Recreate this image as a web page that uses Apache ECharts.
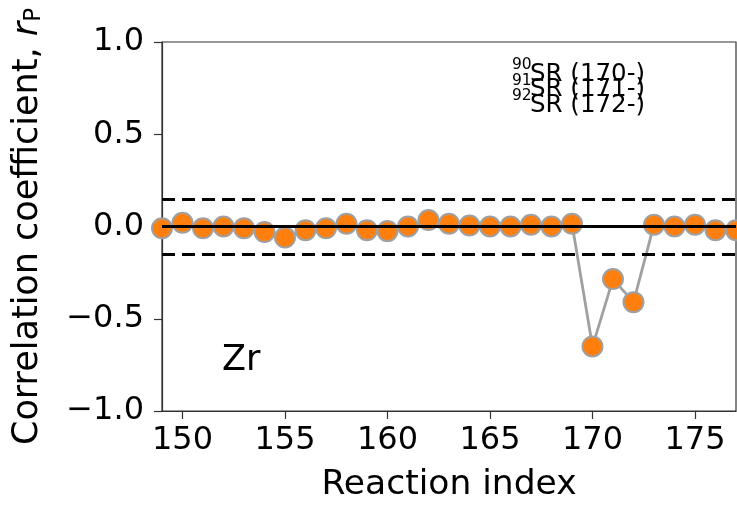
<!DOCTYPE html>
<html><head><meta charset="utf-8">
<script src="https://cdn.jsdelivr.net/npm/echarts@6/dist/echarts.min.js"></script>
<style>html,body{margin:0;padding:0;background:#fff}#c{width:737px;height:508px}</style>
</head><body><div id="c"></div>
<script>
const reactionIndex = [149,150,151,152,153,154,155,156,157,158,159,160,161,162,163,164,165,166,167,168,169,170,171,172,173,174,175,176,177];
const rValues = [-0.01,0.02,-0.01,0.0,-0.01,-0.03,-0.06,-0.02,-0.01,0.015,-0.02,-0.025,0.0,0.035,0.015,0.005,0.0,0.0,0.01,0.0,0.015,-0.65,-0.285,-0.41,0.01,0.0,0.01,-0.02,-0.02];
const xTicks = [150,155,160,165,170,175];
const thresholds = [0.15,-0.15];
const annotationLines = [["90","SR (170-)"],["91","SR (171-)"],["92","SR (172-)"]];
const elementLabel = "Zr";

const FONT = "DejaVu Sans";
const chart = echarts.init(document.getElementById('c'), null, {renderer:'canvas'});
const data = reactionIndex.map((x,i)=>[x,rValues[i]]);
const fmtY = v => (v<0?'\u2212':'') + Math.abs(v).toFixed(1);

const graphics = [];
annotationLines.forEach((l,i)=>{
  graphics.push({type:'text', x:512, y:57+i*15.5, z:10,
    style:{text:l[0], fontSize:15.5, fontFamily:FONT, fill:'#000', align:'left', verticalAlign:'top'}});
  graphics.push({type:'text', x:530, y:62+i*15.5, z:10,
    style:{text:l[1], fontSize:24.5, fontFamily:FONT, fill:'#000', align:'left', verticalAlign:'top'}});
});
graphics.push({type:'text', x:222, y:343, z:10, style:{text:elementLabel, fontSize:35, fontFamily:FONT, fill:'#000', align:'left', verticalAlign:'top'}});

chart.setOption({
  animation:false,
  backgroundColor:'#fff',
  grid:{left:162,right:1,top:42,bottom:93,show:true,borderColor:'#333',borderWidth:1.2,backgroundColor:'transparent'},
  xAxis:{
    type:'value', min:149, max:177,
    axisLine:{show:true,onZero:false,lineStyle:{color:'#333',width:1.2}},
    axisTick:{show:true,customValues:xTicks,length:8,lineStyle:{color:'#333',width:1.2}},
    axisLabel:{customValues:xTicks,fontSize:32,fontFamily:FONT,color:'#000',margin:14},
    splitLine:{show:false},
    name:'Reaction index', nameLocation:'middle', nameGap:57,
    nameTextStyle:{fontSize:34.5,fontFamily:FONT,color:'#000'}
  },
  yAxis:{
    type:'value', min:-1, max:1, interval:0.5,
    axisLine:{show:true,lineStyle:{color:'#333',width:1.2}},
    axisTick:{show:true,length:8,lineStyle:{color:'#333',width:1.2}},
    axisLabel:{formatter:fmtY,fontSize:32,fontFamily:FONT,color:'#000',margin:18},
    splitLine:{show:false},
    name:'Correlation coefficient, {i|r}{s|P}', nameLocation:'middle', nameGap:116,
    nameTextStyle:{fontSize:35,fontFamily:FONT,color:'#000',
      rich:{i:{fontSize:35,fontFamily:FONT,fontStyle:'italic',color:'#000'},
            s:{fontSize:23,fontFamily:FONT,color:'#000',verticalAlign:'bottom',padding:[14,0,0,0]}}}
  },
  graphic:graphics,
  series:[{
    type:'line', data:data, clip:true,
    symbol:'circle', symbolSize:20,
    lineStyle:{color:'#a0a0a0',width:2.8},
    itemStyle:{color:'#ff7f0e',borderColor:'#a0a0a0',borderWidth:2},
    z:2
  },{
    type:'line', data:[], z:20, silent:true,
    markLine:{
      silent:true, symbol:'none', label:{show:false}, animation:false, z:20,
      data:[
        {yAxis:0, lineStyle:{color:'#000',width:3,type:'solid'}},
        {yAxis:thresholds[0], lineStyle:{color:'#000',width:3,type:[13,7]}},
        {yAxis:thresholds[1], lineStyle:{color:'#000',width:3,type:[13,7]}}
      ]
    }
  }]
});
</script></body></html>
